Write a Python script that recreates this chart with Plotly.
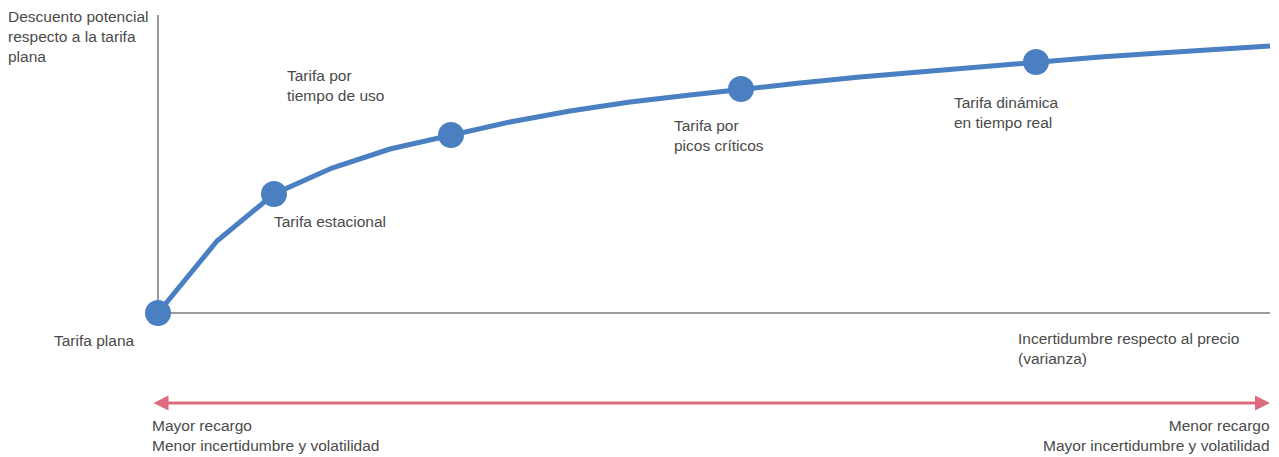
import plotly.graph_objects as go

# Curve: price uncertainty (x) vs potential discount vs flat tariff (y)
curve_x = [0, 59, 116, 174, 232, 293, 352, 412, 472, 532, 583, 642, 702, 762, 822, 878, 942, 1002, 1062, 1112]
curve_y = [0, 72, 119, 145, 164, 178, 191, 202, 211, 218, 224, 230, 236, 241, 246, 251, 256, 260, 264, 267]

# Tariff points
tariff_names = ["Tarifa plana", "Tarifa estacional", "Tarifa por<br>tiempo de uso",
                "Tarifa por<br>picos críticos", "Tarifa dinámica<br>en tiempo real"]
tariff_x = [0, 116, 293, 583, 878]
tariff_y = [0, 119, 178, 224, 251]
# label anchor positions
label_x = [-106, 114, 127, 514, 794]
label_y = [-27, 92, 228, 178, 201]

BLUE = "#4a7fc1"
GREY_AX = "#7a7a7a"
TXT = "#4a4a4a"
RED = "#dc6b7d"
FONT = dict(family="Liberation Sans, Arial, sans-serif", size=15.5, color=TXT)

fig = go.Figure()
fig.add_trace(go.Scatter(x=curve_x, y=curve_y, mode="lines",
                         line=dict(color=BLUE, width=5), hoverinfo="skip"))
fig.add_trace(go.Scatter(x=tariff_x, y=tariff_y, mode="markers",
                         marker=dict(color=BLUE, size=26), hoverinfo="skip"))

# axes lines
fig.add_shape(type="line", x0=0, x1=0, y0=0, y1=298, line=dict(color=GREY_AX, width=1.5), layer="below")
fig.add_shape(type="line", x0=0, x1=1112, y0=0, y1=0, line=dict(color=GREY_AX, width=1.5), layer="below")

for name, lx, ly in zip(tariff_names, label_x, label_y):
    fig.add_annotation(x=lx, y=ly, text=name, showarrow=False, xanchor="left",
                       yanchor="middle", align="left", font=FONT)

fig.add_annotation(x=-152, y=277, text="Descuento potencial<br>respecto a la tarifa<br>plana",
                   showarrow=False, xanchor="left", yanchor="middle", align="left", font=FONT)
fig.add_annotation(x=858, y=-35, text="Incertidumbre respecto al precio<br>(varianza)",
                   showarrow=False, xanchor="left", yanchor="middle", align="left", font=FONT)
fig.add_annotation(x=-8, y=-122, text="Mayor recargo<br>Menor incertidumbre y volatilidad",
                   showarrow=False, xanchor="left", yanchor="middle", align="left", font=FONT)
fig.add_annotation(x=1114, y=-122, text="Menor recargo<br>Mayor incertidumbre y volatilidad",
                   showarrow=False, xanchor="right", yanchor="middle", align="right", font=FONT)

# double headed arrow
fig.add_annotation(x=1112, y=-90, ax=-6, ay=-90, xref="x", yref="y", axref="x", ayref="y",
                   text="", showarrow=True, arrowside="end+start", arrowhead=2,
                   arrowsize=1, arrowwidth=3, arrowcolor=RED, standoff=0, startstandoff=0)

fig.update_layout(width=1279, height=457, margin=dict(l=0, r=0, t=0, b=0),
                  plot_bgcolor="white", paper_bgcolor="white", showlegend=False,
                  xaxis=dict(range=[-158, 1121], visible=False, fixedrange=True),
                  yaxis=dict(range=[-144, 313], visible=False, fixedrange=True))

fig.write_html("out.html", config={"displayModeBar": False},
               post_script="document.body.style.margin='0';document.body.style.overflow='hidden';")
